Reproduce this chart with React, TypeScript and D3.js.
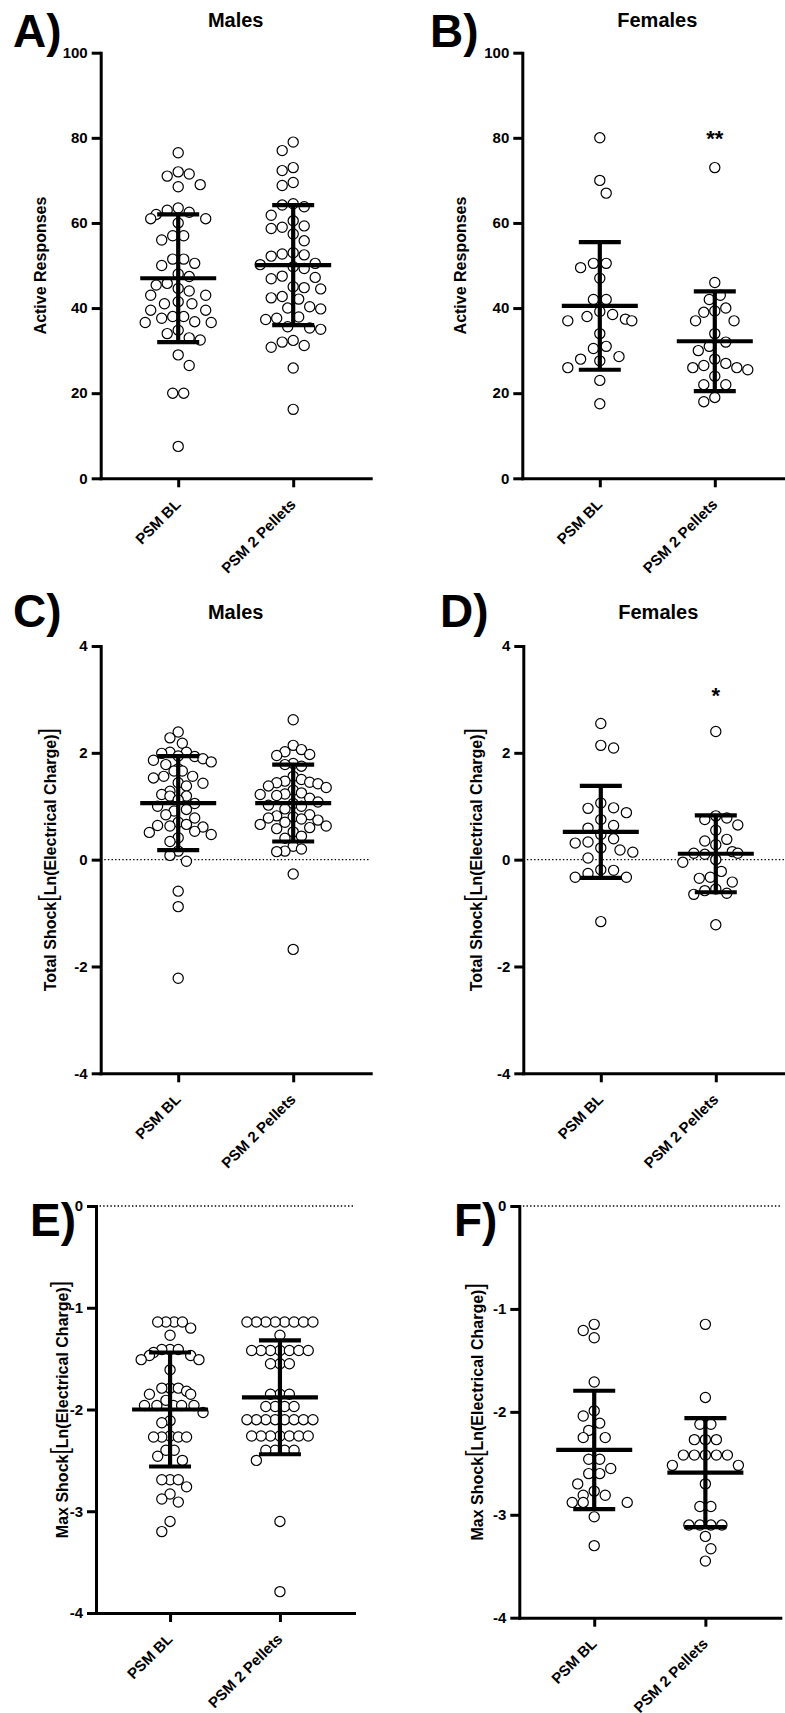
import React, { useRef, useEffect } from "react";
import * as d3 from "d3";

const FONT = "'Liberation Sans', Arial, Helvetica, sans-serif";
const W = 785;
const H = 1713;

const groups = ["PSM BL", "PSM 2 Pellets"];

const activeTicks = [0, 20, 40, 60, 80, 100];
const totalTicks = [-4, -2, 0, 2, 4];
const maxTicks = [-4, -3, -2, -1, 0];

// A) males, active responses
const maleActiveBL = [76.5, 72, 71.5, 71, 69, 68.5, 63.5, 63, 62.5, 62, 61, 61, 60, 57, 57, 56, 51.5, 51.5, 50.5, 50, 48, 47.4, 45.8, 45.4, 44.6, 44, 43, 43, 41.5, 41, 41, 39.5, 39.5, 38, 38, 37.6, 36.6, 36.8, 36.6, 34.8, 34, 33, 32.5, 29, 26.5, 20, 20, 7.5];
const maleActivePellets = [79, 77, 73, 72.3, 69.5, 68.8, 64.5, 64.2, 63.8, 61.8, 60.5, 59.3, 59, 58.7, 57.4, 55.8, 53, 52.7, 52.5, 52.2, 50.5, 50.2, 49.7, 49.3, 47.5, 47.2, 46.9, 45, 44.8, 44.5, 42.7, 42.4, 42.1, 40.3, 40, 39.8, 37.9, 37.6, 37.3, 35.6, 35.3, 35, 32.4, 32, 31.2, 30.8, 25.9, 16.2];
const maleActiveMean = [47, 50.1];
const maleActiveSD = [15, 14.1];

// B) females, active responses
const femaleActiveBL = [80, 70, 67, 50.5, 50.5, 49.5, 47, 42, 42, 39.2, 38.5, 38, 37.4, 37, 37, 34, 31, 30.5, 28.6, 28, 27.6, 26, 23, 17.5];
const femaleActivePellets = [73, 46, 43, 42, 40, 39.3, 39, 37, 37, 34, 32, 31, 30, 28, 27, 26.5, 26, 26, 25.5, 24, 22, 22, 19, 18];
const femaleActiveMean = [40.5, 32.2];
const femaleActiveSD = [15, 11.7];

// C) males, total shock
const maleTotalBL = [2.39, 2.28, 2.18, 2.01, 2.01, 1.99, 1.94, 1.93, 1.89, 1.86, 1.83, 1.78, 1.7, 1.66, 1.66, 1.56, 1.56, 1.53, 1.44, 1.43, 1.38, 1.28, 1.22, 1.19, 1.19, 1.12, 1.05, 1.0, 0.94, 0.91, 0.84, 0.78, 0.7, 0.66, 0.64, 0.63, 0.61, 0.53, 0.51, 0.47, 0.41, 0.34, 0.16, 0.08, -0.03, -0.59, -0.88, -2.22];
const maleTotalPellets = [2.62, 2.14, 2.06, 2.02, 1.97, 1.95, 1.8, 1.78, 1.75, 1.56, 1.5, 1.47, 1.45, 1.44, 1.42, 1.38, 1.35, 1.3, 1.25, 1.23, 1.22, 1.2, 1.15, 1.08, 1.05, 1.02, 1.0, 0.95, 0.84, 0.82, 0.8, 0.78, 0.76, 0.74, 0.7, 0.66, 0.63, 0.6, 0.58, 0.52, 0.44, 0.4, 0.25, 0.2, 0.16, 0.15, -0.27, -1.68];
const maleTotalMean = [1.06, 1.06];
const maleTotalSD = [0.88, 0.72];

// D) females, total shock
const femaleTotalBL = [2.55, 2.14, 2.09, 1.06, 0.97, 0.96, 0.88, 0.75, 0.64, 0.59, 0.47, 0.39, 0.33, 0.31, 0.22, 0.18, 0.14, 0.03, -0.19, -0.2, -0.26, -0.33, -0.33, -1.16];
const femaleTotalPellets = [2.4, 0.82, 0.78, 0.75, 0.65, 0.55, 0.38, 0.35, 0.28, 0.15, 0.12, 0.12, 0.1, 0.0, -0.05, -0.22, -0.33, -0.35, -0.42, -0.55, -0.58, -0.63, -0.65, -1.22];
const femaleTotalMean = [0.52, 0.11];
const femaleTotalSD = [0.86, 0.72];

// E) males, max shock
const maleMaxBL = [-1.14, -1.14, -1.14, -1.14, -1.2, -1.27, -1.41, -1.41, -1.41, -1.44, -1.47, -1.47, -1.51, -1.51, -1.61, -1.79, -1.79, -1.79, -1.82, -1.85, -1.85, -1.91, -1.96, -1.96, -1.96, -1.96, -1.96, -2.03, -2.11, -2.13, -2.26, -2.27, -2.27, -2.27, -2.27, -2.4, -2.4, -2.46, -2.5, -2.69, -2.69, -2.69, -2.76, -2.83, -2.88, -2.91, -3.1, -3.2];
const maleMaxPellets = [-1.14, -1.14, -1.14, -1.14, -1.14, -1.14, -1.14, -1.14, -1.27, -1.42, -1.42, -1.42, -1.42, -1.42, -1.42, -1.42, -1.55, -1.55, -1.55, -1.85, -1.85, -1.85, -1.97, -1.97, -1.97, -1.97, -2.1, -2.1, -2.1, -2.1, -2.1, -2.1, -2.1, -2.1, -2.26, -2.26, -2.26, -2.26, -2.26, -2.26, -2.26, -2.4, -2.4, -2.4, -2.4, -2.5, -3.1, -3.79];
const maleMaxMean = [-2.0, -1.88];
const maleMaxSD = [0.56, 0.56];

// F) females, max shock
const femaleMaxBL = [-1.15, -1.21, -1.28, -1.71, -1.99, -2.04, -2.11, -2.18, -2.25, -2.25, -2.46, -2.46, -2.55, -2.6, -2.6, -2.7, -2.77, -2.81, -2.81, -2.88, -2.88, -2.88, -3.02, -3.3];
const femaleMaxPellets = [-1.15, -1.86, -2.12, -2.12, -2.27, -2.27, -2.27, -2.42, -2.42, -2.42, -2.42, -2.42, -2.52, -2.52, -2.7, -2.92, -2.92, -3.1, -3.1, -3.1, -3.1, -3.21, -3.33, -3.45];
const femaleMaxMean = [-2.37, -2.59];
const femaleMaxSD = [0.575, 0.53];

const totalLabel = ["Total Shock", "Ln(Electrical Charge)"];
const maxLabel = ["Max Shock", "Ln(Electrical Charge)"];

const panels = [
  { letter: "A)", letterPos: [13, 47], title: "Males", titleY: 27, label: ["Active Responses"], labelX: 40, data: [maleActiveBL, maleActivePellets], mean: maleActiveMean, sd: maleActiveSD, ticks: activeTicks, zero: false, sig: null, box: { x0: 100.7, w: 270, yTop: 52.7, yBot: 478.3 } },
  { letter: "B)", letterPos: [430, 47], title: "Females", titleY: 27, label: ["Active Responses"], labelX: 460, data: [femaleActiveBL, femaleActivePellets], mean: femaleActiveMean, sd: femaleActiveSD, ticks: activeTicks, zero: false, sig: { text: "**", level: 81 }, box: { x0: 522.3, w: 270, yTop: 52.7, yBot: 478.3 } },
  { letter: "C)", letterPos: [13, 627], title: "Males", titleY: 619, label: totalLabel, labelX: 50, data: [maleTotalBL, maleTotalPellets], mean: maleTotalMean, sd: maleTotalSD, ticks: totalTicks, zero: true, sig: null, box: { x0: 100.7, w: 270, yTop: 646, yBot: 1073.3 } },
  { letter: "D)", letterPos: [440, 627], title: "Females", titleY: 619, label: totalLabel, labelX: 476, data: [femaleTotalBL, femaleTotalPellets], mean: femaleTotalMean, sd: femaleTotalSD, ticks: totalTicks, zero: true, sig: { text: "*", level: 3.16 }, box: { x0: 523.3, w: 270, yTop: 646, yBot: 1073.3 } },
  { letter: "E)", letterPos: [30, 1236], title: "", titleY: 0, label: maxLabel, labelX: 62, data: [maleMaxBL, maleMaxPellets], mean: maleMaxMean, sd: maleMaxSD, ticks: maxTicks, zero: true, sig: null, box: { x0: 96, w: 258, yTop: 1206, yBot: 1613 } },
  { letter: "F)", letterPos: [454, 1236], title: "", titleY: 0, label: maxLabel, labelX: 477, data: [femaleMaxBL, femaleMaxPellets], mean: femaleMaxMean, sd: femaleMaxSD, ticks: maxTicks, zero: true, sig: null, box: { x0: 519.3, w: 261, yTop: 1206, yBot: 1617.7 } },
];

// GraphPad-like scatter: push points sideways until they stop overlapping
function swarm(values: number[], y: any, cx: number) {
  const d = 12.8;
  const h = d / 2;
  const maxHalf = 33;
  const pts = values.map((v) => ({ v, py: y(v), dx: 0 })).sort((a, b) => a.py - b.py);
  const placed: any[] = [];
  let flip = false;
  let i = 0;
  while (i < pts.length) {
    let j = i;
    while (j < pts.length && pts[j].v === pts[i].v) j++;
    const batch = pts.slice(i, j);
    batch.forEach((p) => {
      const near = placed.filter((q) => Math.abs(q.py - p.py) < d);
      const bias = d3.sum(near, (q) => q.dx);
      for (let k = 0; k < 80; k++) {
        let c: number[];
        if (k === 0) c = [0];
        else if (bias > 0.01) c = [-k * h, k * h];
        else if (bias < -0.01) c = [k * h, -k * h];
        else c = flip ? [-k * h, k * h] : [k * h, -k * h];
        const ok = c.find((o) =>
          near.every((q) => (q.dx - o) ** 2 + (q.py - p.py) ** 2 >= d * d - 0.01)
        );
        if (ok !== undefined) {
          p.dx = ok;
          break;
        }
      }
      flip = !flip;
      placed.push(p);
    });
    if (batch.length > 1) {
      const m = d3.mean(batch, (p) => p.dx) || 0;
      batch.forEach((p) => (p.dx -= m));
    }
    i = j;
  }
  const mx = d3.max(pts, (p) => Math.abs(p.dx)) || 0;
  const s = mx > maxHalf ? maxHalf / mx : 1;
  return pts.map((p) => ({ x: cx + p.dx * s, y: p.py }));
}

const App = () => {
  const chartRef = useRef<SVGSVGElement>(null);

  useEffect(() => {
    const svg = d3.select(chartRef.current);
    svg.selectAll("*").remove();
    svg.append("rect").attr("width", W).attr("height", H).attr("fill", "#fff");

    panels.forEach((p) => {
      const { x0, w, yTop, yBot } = p.box;
      const y = d3
        .scaleLinear()
        .domain(d3.extent(p.ticks) as [number, number])
        .range([yBot, yTop]);
      const x = d3
        .scalePoint()
        .domain(groups)
        .range([x0, x0 + w])
        .padding(0.674);

      const g = svg
        .append("g")
        .attr("font-family", FONT)
        .attr("font-weight", "bold")
        .attr("fill", "#000");

      if (p.zero) {
        g.append("line")
          .attr("x1", x0)
          .attr("x2", x0 + w)
          .attr("y1", y(0))
          .attr("y2", y(0))
          .attr("stroke", "#000")
          .attr("stroke-width", 1.4)
          .attr("stroke-dasharray", "1.4 2.2");
      }

      // x axis
      const xAxis = g
        .append("g")
        .attr("transform", `translate(0,${yBot})`)
        .call(d3.axisBottom(x).tickSize(9).tickSizeOuter(0));
      xAxis.attr("font-family", FONT).attr("font-size", 15);
      xAxis.select(".domain").attr("stroke-width", 3).attr("stroke-linecap", "square");
      xAxis.selectAll(".tick line").attr("stroke-width", 3);
      xAxis
        .selectAll(".tick text")
        .attr("x", 3)
        .attr("y", 27)
        .attr("dy", null)
        .attr("transform", "rotate(-45 3 27)")
        .attr("text-anchor", "end")
        .attr("fill", "#000");

      // y axis
      const yAxis = g
        .append("g")
        .attr("transform", `translate(${x0},0)`)
        .call(
          d3
            .axisLeft(y)
            .tickValues(p.ticks)
            .tickSize(9)
            .tickSizeOuter(0)
            .tickPadding(4)
            .tickFormat((d: any) => String(d))
        );
      yAxis.attr("font-family", FONT).attr("font-size", 15);
      yAxis.select(".domain").attr("stroke-width", 3).attr("stroke-linecap", "square");
      yAxis.selectAll(".tick line").attr("stroke-width", 3);
      yAxis.selectAll(".tick text").attr("fill", "#000");

      // points
      p.data.forEach((vals, i) => {
        const pts = swarm(vals, y, x(groups[i]) as number);
        g.append("g")
          .selectAll("circle")
          .data(pts)
          .join("circle")
          .attr("cx", (d) => d.x)
          .attr("cy", (d) => d.y)
          .attr("r", 5.1)
          .attr("fill", "#fff")
          .attr("stroke", "#000")
          .attr("stroke-width", 1.2);
      });

      // mean +/- SD
      groups.forEach((grp, i) => {
        const cx = x(grp) as number;
        const m = p.mean[i];
        const s = p.sd[i];
        const bars = [
          [cx, y(m + s), cx, y(m - s)],
          [cx - 38, y(m), cx + 38, y(m)],
          [cx - 21, y(m + s), cx + 21, y(m + s)],
          [cx - 21, y(m - s), cx + 21, y(m - s)],
        ];
        g.append("g")
          .selectAll("line")
          .data(bars)
          .join("line")
          .attr("x1", (d) => d[0])
          .attr("y1", (d) => d[1])
          .attr("x2", (d) => d[2])
          .attr("y2", (d) => d[3])
          .attr("stroke", "#000")
          .attr("stroke-width", 4.2);
      });

      if (p.sig) {
        g.append("text")
          .attr("x", x(groups[1]) as number)
          .attr("y", y(p.sig.level) + 12)
          .attr("text-anchor", "middle")
          .attr("font-size", 22)
          .text(p.sig.text);
      }

      // panel letter + title
      g.append("text")
        .attr("x", p.letterPos[0])
        .attr("y", p.letterPos[1])
        .attr("font-size", 46)
        .text(p.letter);
      if (p.title) {
        g.append("text")
          .attr("x", x0 + w / 2)
          .attr("y", p.titleY)
          .attr("text-anchor", "middle")
          .attr("font-size", 20)
          .text(p.title);
      }

      // y axis title
      const lab = g
        .append("text")
        .attr("transform", `translate(${p.labelX},${(yTop + yBot) / 2}) rotate(-90)`)
        .attr("text-anchor", "middle")
        .attr("dy", "0.35em")
        .attr("font-size", 16);
      if (p.label.length > 1) {
        lab.append("tspan").text(p.label[0]);
        lab.append("tspan").attr("font-size", 23).attr("font-weight", "normal").text("[");
        lab.append("tspan").text(p.label[1]);
        lab.append("tspan").attr("font-size", 23).attr("font-weight", "normal").text("]");
      } else {
        lab.text(p.label[0]);
      }
    });

    return () => {
      if (chartRef.current) chartRef.current.innerHTML = "";
    };
  }, []);

  return (
    <svg
      ref={chartRef}
      width={W}
      height={H}
      style={{ position: "absolute", left: 0, top: 0 }}
    ></svg>
  );
};

export default App;
